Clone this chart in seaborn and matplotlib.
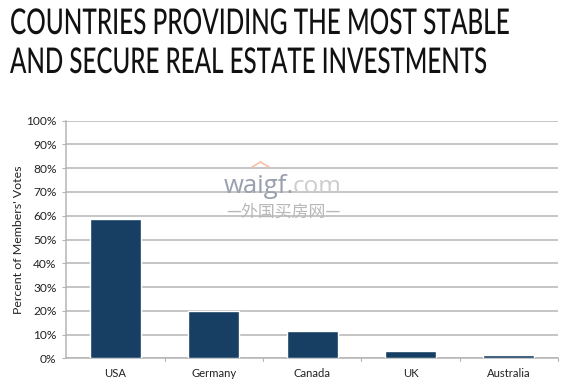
import matplotlib
matplotlib.use("Agg")
import matplotlib.pyplot as plt
import matplotlib.patheffects as pe
from matplotlib.lines import Line2D
from matplotlib.ticker import PercentFormatter
from matplotlib.transforms import Affine2D
import seaborn as sns
import pandas as pd

countries = ["USA", "Germany", "Canada", "UK", "Australia"]
votes = [58.5, 20, 11.6, 3.2, 1.5]
title_lines = ["COUNTRIES PROVIDING THE MOST STABLE", "AND SECURE REAL ESTATE INVESTMENTS"]
ylabel = "Percent of Members' Votes"

W, H = 564, 382
sns.set_theme(style="white")
plt.rcParams["font.family"] = ["Lato", "DejaVu Sans"]

fig = plt.figure(figsize=(W / 100, H / 100), dpi=100, facecolor="white")
ax = fig.add_axes([66.3 / W, (H - 358.3) / H, 491.7 / W, 237.6 / H])

df = pd.DataFrame({"country": countries, "votes": votes})
sns.barplot(data=df, x="country", y="votes", color="#163f63", saturation=1, width=0.52, ax=ax, zorder=3)

ax.set_ylim(0, 100)
ax.set_xlim(-0.5, 4.5)
ax.set_yticks(range(0, 101, 10))
ax.yaxis.set_major_formatter(PercentFormatter(100, decimals=0))
ax.yaxis.grid(True, color="#b5b5b5", lw=1.1, zorder=0)
ax.set_axisbelow(True)
ax.set_xlabel("")
ax.set_ylabel(ylabel, fontsize=8.9, color="#222222", labelpad=1.5)
ax.tick_params(axis="y", labelsize=8.6, labelcolor="#222222", length=3, width=0.8, color="#b5b5b5", pad=4, left=True)
ax.tick_params(axis="x", labelsize=8.1, labelcolor="#222222", length=0, pad=7)
for s in ["top", "right"]:
    ax.spines[s].set_visible(False)
for s in ["left", "bottom"]:
    ax.spines[s].set_color("#b5b5b5")
    ax.spines[s].set_linewidth(1.1)
for x in [0.5, 1.5, 2.5, 3.5, 4.5]:
    ax.plot([x, x], [0, -1], color="#b5b5b5", lw=0.8, clip_on=False)


class StretchY(pe.AbstractPathEffect):
    """Draw text taller about its baseline (no condensed font is installed)."""

    def __init__(self, baseline_px, sy):
        super().__init__()
        self.baseline_px = baseline_px
        self.sy = sy

    def draw_path(self, renderer, gc, tpath, affine, rgbFace=None):
        stretch = Affine2D().translate(0, -self.baseline_px).scale(1, self.sy).translate(0, self.baseline_px)
        renderer.draw_path(gc, tpath, affine + stretch, rgbFace)


renderer = fig.canvas.get_renderer()
for line, baseline, right in zip(title_lines, [34, 73], [511, 488]):
    t = fig.text(10 / W, 1 - baseline / H, line, family=["Lato", "DejaVu Sans"], fontsize=16, weight="medium",
                 color="#111111", ha="left", va="baseline")
    width = t.get_window_extent(renderer).width
    size = 16 * (right - 10) / width
    t.set_fontsize(size)
    cap_px = 0.72 * size * 100 / 72
    t.set_path_effects([StretchY(H - baseline, 25.5 / cap_px)])

# Watermark
fig.text(224 / W, 1 - 193 / H, "waigf.", fontsize=18.5, color="#9aa0ae", ha="left", va="baseline", family="Open Sans", zorder=5)
fig.text(293 / W, 1 - 193 / H, "com", fontsize=17.5, color="#cccccc", ha="left", va="baseline", family="Open Sans", zorder=5)
fig.text(283 / W, 1 - 212 / H, "—外国买房网—", fontsize=12.2, color="#b8b8b8", ha="center", va="center",
         family=["Noto Sans CJK SC", "DejaVu Sans"], zorder=5)
fig.add_artist(Line2D([252 / W, 260.5 / W, 269 / W], [1 - 167 / H, 1 - 162 / H, 1 - 167 / H], color="#f7c3ab", lw=1.3))

fig.savefig("out.png", dpi=100, facecolor="white")
